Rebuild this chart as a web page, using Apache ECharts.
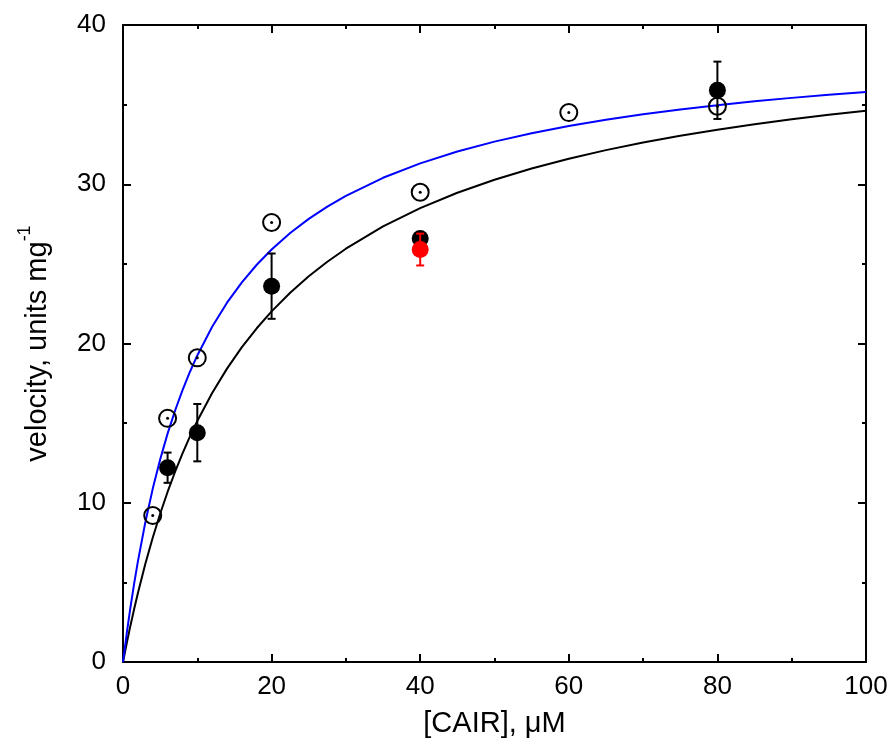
<!DOCTYPE html>
<html>
<head>
<meta charset="utf-8">
<script src="https://cdn.jsdelivr.net/npm/echarts@6/dist/echarts.min.js"></script>
<style>
  html, body { margin: 0; padding: 0; background: #fff; }
  #chart { width: 895px; height: 746px; }
</style>
</head>
<body>
<div id="chart"></div>
<script>
// Substrate concentrations and measured velocities
const openX = [4, 6, 10, 20, 40, 60, 80];
const openY = [9.2, 15.3, 19.1, 27.6, 29.5, 34.5, 34.9];

const filledX = [6, 10, 20, 40, 80];
const filledY = [12.2, 14.4, 23.6, 26.6, 35.9];
const filledErr = [0.95, 1.8, 2.05, 0, 1.8];

const redX = [40];
const redY = [25.9];
const redErr = [1.0];

// Fitted saturation curves, sampled along the x axis
const curveX = [0, 0.5, 1, 1.5, 2, 3, 4, 5, 6, 7, 8, 9, 10, 12, 14, 16, 18, 20, 22.5, 25, 27.5, 30, 35, 40, 45, 50, 55, 60, 65, 70, 75, 80, 85, 90, 95, 100];
const fitBlue = [0, 1.789, 3.424, 4.923, 6.302, 8.760, 10.873, 12.719, 14.341, 15.778, 17.060, 18.212, 19.251, 21.053, 22.562, 23.843, 24.945, 25.899, 26.937, 27.826, 28.598, 29.275, 30.406, 31.313, 32.057, 32.678, 33.205, 33.656, 34.048, 34.392, 34.695, 34.965, 35.206, 35.424, 35.621, 35.800];
const fitBlack = [0, 1.174, 2.282, 3.330, 4.321, 6.152, 7.807, 9.309, 10.678, 11.932, 13.085, 14.148, 15.131, 16.892, 18.423, 19.768, 20.957, 22.016, 23.189, 24.221, 25.136, 25.953, 27.350, 28.501, 29.465, 30.285, 30.990, 31.604, 32.142, 32.618, 33.043, 33.423, 33.766, 34.077, 34.360, 34.619];

// Tick values
const xTicks = { min: 0, max: 100, interval: 20 };
const yTicks = { min: 0, max: 40, interval: 10 };

const zip = (xs, ys) => xs.map((x, i) => [x, ys[i]]);
const errData = (xs, ys, es) => xs.map((x, i) => [x, ys[i] - es[i], ys[i] + es[i]]).filter((d, i) => es[i] > 0);

const FONT = '"Liberation Sans", Arial, Helvetica, sans-serif';

function errorBar(color) {
  return function (params, api) {
    const x = api.value(0);
    const lo = api.coord([x, api.value(1)]);
    const hi = api.coord([x, api.value(2)]);
    const cap = 4;
    const style = { stroke: color, lineWidth: 2, fill: null };
    return {
      type: 'group',
      children: [
        { type: 'line', shape: { x1: lo[0], y1: lo[1], x2: hi[0], y2: hi[1] }, style },
        { type: 'line', shape: { x1: lo[0] - cap, y1: lo[1], x2: lo[0] + cap, y2: lo[1] }, style },
        { type: 'line', shape: { x1: hi[0] - cap, y1: hi[1], x2: hi[0] + cap, y2: hi[1] }, style }
      ]
    };
  };
}

const axisCommon = {
  axisLine: { show: true, onZero: false, lineStyle: { color: '#000', width: 2 } },
  axisTick: { show: true, inside: true, length: 8, lineStyle: { color: '#000', width: 2 } },
  minorTick: { show: true, splitNumber: 2, length: 4, lineStyle: { color: '#000', width: 2 } },
  splitLine: { show: false },
  minorSplitLine: { show: false }
};

const chart = echarts.init(document.getElementById('chart'), null, { renderer: 'canvas' });

chart.setOption({
  animation: false,
  backgroundColor: '#fff',
  grid: { left: 123, right: 29, top: 25, bottom: 84 },
  xAxis: [
    Object.assign({}, axisCommon, {
      type: 'value', position: 'bottom',
      min: xTicks.min, max: xTicks.max, interval: xTicks.interval,
      axisLabel: { color: '#000', fontSize: 26, fontFamily: FONT, margin: 12 },
      name: '[CAIR], μM',
      nameLocation: 'middle', nameGap: 47,
      nameTextStyle: { color: '#000', fontSize: 29, fontFamily: FONT }
    }),
    Object.assign({}, axisCommon, {
      type: 'value', position: 'top',
      min: xTicks.min, max: xTicks.max, interval: xTicks.interval,
      axisLabel: { show: false }
    })
  ],
  yAxis: [
    Object.assign({}, axisCommon, {
      type: 'value', position: 'left',
      min: yTicks.min, max: yTicks.max, interval: yTicks.interval,
      axisLabel: { color: '#000', fontSize: 26, fontFamily: FONT, margin: 17 },
      name: '{n|velocity, units mg}{s|-1}',
      nameLocation: 'middle', nameGap: 71,
      nameTextStyle: {
        color: '#000', fontSize: 29, fontFamily: FONT,
        rich: {
          n: { fontSize: 29, fontFamily: FONT, color: '#000', lineHeight: 36, verticalAlign: 'bottom' },
          s: { fontSize: 18, fontFamily: FONT, color: '#000', lineHeight: 36, verticalAlign: 'top' }
        }
      }
    }),
    Object.assign({}, axisCommon, {
      type: 'value', position: 'right',
      min: yTicks.min, max: yTicks.max, interval: yTicks.interval,
      axisLabel: { show: false }
    })
  ],
  series: [
    {
      type: 'line', name: 'fit black', data: zip(curveX, fitBlack),
      smooth: false, showSymbol: false, symbol: 'none',
      lineStyle: { color: '#000', width: 2 }, z: 2
    },
    {
      type: 'line', name: 'fit blue', data: zip(curveX, fitBlue),
      smooth: false, showSymbol: false, symbol: 'none',
      lineStyle: { color: '#0000ff', width: 2 }, z: 2
    },
    {
      type: 'scatter', name: 'open', data: zip(openX, openY),
      symbol: 'circle', symbolSize: 17,
      itemStyle: { color: 'rgba(0,0,0,0)', borderColor: '#000', borderWidth: 2, opacity: 1 }, z: 3
    },
    {
      type: 'scatter', name: 'open centre', data: zip(openX, openY),
      symbol: 'circle', symbolSize: 3,
      itemStyle: { color: '#000', opacity: 1 }, z: 3
    },
    {
      type: 'custom', name: 'filled err', data: errData(filledX, filledY, filledErr),
      renderItem: errorBar('#000'), z: 4
    },
    {
      type: 'scatter', name: 'filled', data: zip(filledX, filledY),
      symbol: 'circle', symbolSize: 17,
      itemStyle: { color: '#000', opacity: 1 }, z: 4
    },
    {
      type: 'scatter', name: 'red', data: zip(redX, redY),
      symbol: 'circle', symbolSize: 17,
      itemStyle: { color: '#ff0000', opacity: 1 }, z: 5
    },
    {
      type: 'custom', name: 'red err', data: errData(redX, redY, redErr),
      renderItem: errorBar('#ff0000'), z: 6
    }
  ]
});
</script>
</body>
</html>
